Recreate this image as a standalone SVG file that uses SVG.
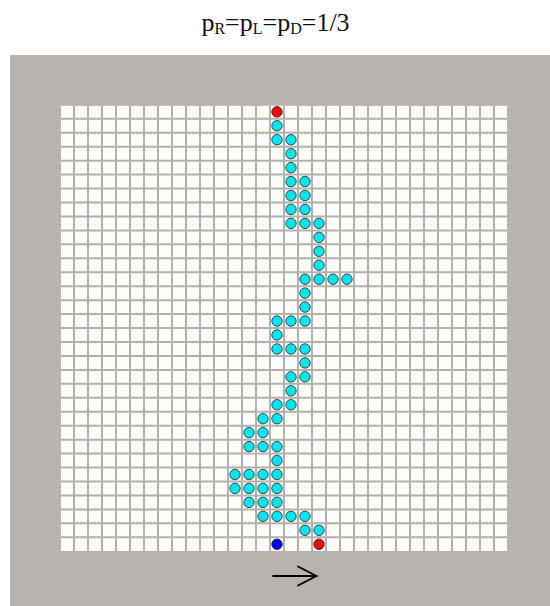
<svg xmlns="http://www.w3.org/2000/svg" width="550" height="606" viewBox="0 0 550 606">
<style>
.title{font-family:"Liberation Serif","Times New Roman",serif;font-size:26px;fill:#111}
.grid{fill:none;stroke:#b5b1ac;stroke-width:2}
.c{fill:#00e6ee;stroke:#3a4a4a;stroke-width:1}
.r{fill:#ff0000;stroke:#4a2a2a;stroke-width:1}
.b{fill:#0000ee;stroke:#22224a;stroke-width:1}
.arrow{fill:none;stroke:#000;stroke-width:1.8;stroke-linecap:round}
</style>
<rect x="0" y="0" width="550" height="606" fill="#ffffff"/>
<text class="title" x="275.5" y="31" text-anchor="middle">p<tspan font-size="16" dy="3">R</tspan><tspan dy="-3">=p</tspan><tspan font-size="16" dy="3">L</tspan><tspan dy="-3">=p</tspan><tspan font-size="16" dy="3">D</tspan><tspan dy="-3">=1/3</tspan></text>
<g id="board">
<rect x="10" y="55" width="540" height="551" fill="#b7b3ae"/>
<rect x="61" y="105.8" width="446" height="445.2" fill="#fdfdfb"/>
<path class="grid" d="M74 105.8V551M88 105.8V551M102 105.8V551M116 105.8V551M130 105.8V551M144 105.8V551M158 105.8V551M172 105.8V551M186 105.8V551M200 105.8V551M214 105.8V551M228 105.8V551M242 105.8V551M256 105.8V551M270 105.8V551M284 105.8V551M298 105.8V551M312 105.8V551M326 105.8V551M340 105.8V551M354 105.8V551M368 105.8V551M382 105.8V551M396 105.8V551M410 105.8V551M424 105.8V551M438 105.8V551M452 105.8V551M466 105.8V551M480 105.8V551M494 105.8V551"/>
<path class="grid" d="M61 118.8H507M61 132.75H507M61 146.7H507M61 160.65H507M61 174.6H507M61 188.55H507M61 202.5H507M61 216.45H507M61 230.4H507M61 244.35H507M61 258.3H507M61 272.25H507M61 286.2H507M61 300.15H507M61 314.1H507M61 328.05H507M61 342H507M61 355.95H507M61 369.9H507M61 383.85H507M61 397.8H507M61 411.75H507M61 425.7H507M61 439.65H507M61 453.6H507M61 467.55H507M61 481.5H507M61 495.45H507M61 509.4H507M61 523.35H507M61 537.3H507"/>
</g>
<g id="start"><circle class="r" cx="277" cy="111.8" r="5.2"/></g>
<g id="walk">
<circle class="c" cx="277" cy="125.75" r="5.2"/>
<circle class="c" cx="277" cy="139.7" r="5.2"/><circle class="c" cx="291" cy="139.7" r="5.2"/>
<circle class="c" cx="291" cy="153.65" r="5.2"/>
<circle class="c" cx="291" cy="167.6" r="5.2"/>
<circle class="c" cx="291" cy="181.55" r="5.2"/><circle class="c" cx="305" cy="181.55" r="5.2"/>
<circle class="c" cx="291" cy="195.5" r="5.2"/><circle class="c" cx="305" cy="195.5" r="5.2"/>
<circle class="c" cx="291" cy="209.45" r="5.2"/><circle class="c" cx="305" cy="209.45" r="5.2"/>
<circle class="c" cx="291" cy="223.4" r="5.2"/><circle class="c" cx="305" cy="223.4" r="5.2"/><circle class="c" cx="319" cy="223.4" r="5.2"/>
<circle class="c" cx="319" cy="237.35" r="5.2"/>
<circle class="c" cx="319" cy="251.3" r="5.2"/>
<circle class="c" cx="319" cy="265.25" r="5.2"/>
<circle class="c" cx="305" cy="279.2" r="5.2"/><circle class="c" cx="319" cy="279.2" r="5.2"/><circle class="c" cx="333" cy="279.2" r="5.2"/><circle class="c" cx="347" cy="279.2" r="5.2"/>
<circle class="c" cx="305" cy="293.15" r="5.2"/>
<circle class="c" cx="305" cy="307.1" r="5.2"/>
<circle class="c" cx="277" cy="321.05" r="5.2"/><circle class="c" cx="291" cy="321.05" r="5.2"/><circle class="c" cx="305" cy="321.05" r="5.2"/>
<circle class="c" cx="277" cy="335" r="5.2"/>
<circle class="c" cx="277" cy="348.95" r="5.2"/><circle class="c" cx="291" cy="348.95" r="5.2"/><circle class="c" cx="305" cy="348.95" r="5.2"/>
<circle class="c" cx="305" cy="362.9" r="5.2"/>
<circle class="c" cx="291" cy="376.85" r="5.2"/><circle class="c" cx="305" cy="376.85" r="5.2"/>
<circle class="c" cx="291" cy="390.8" r="5.2"/>
<circle class="c" cx="277" cy="404.75" r="5.2"/><circle class="c" cx="291" cy="404.75" r="5.2"/>
<circle class="c" cx="263" cy="418.7" r="5.2"/><circle class="c" cx="277" cy="418.7" r="5.2"/>
<circle class="c" cx="249" cy="432.65" r="5.2"/><circle class="c" cx="263" cy="432.65" r="5.2"/>
<circle class="c" cx="249" cy="446.6" r="5.2"/><circle class="c" cx="263" cy="446.6" r="5.2"/><circle class="c" cx="277" cy="446.6" r="5.2"/>
<circle class="c" cx="277" cy="460.55" r="5.2"/>
<circle class="c" cx="235" cy="474.5" r="5.2"/><circle class="c" cx="249" cy="474.5" r="5.2"/><circle class="c" cx="263" cy="474.5" r="5.2"/><circle class="c" cx="277" cy="474.5" r="5.2"/>
<circle class="c" cx="235" cy="488.45" r="5.2"/><circle class="c" cx="249" cy="488.45" r="5.2"/><circle class="c" cx="263" cy="488.45" r="5.2"/><circle class="c" cx="277" cy="488.45" r="5.2"/>
<circle class="c" cx="249" cy="502.4" r="5.2"/><circle class="c" cx="263" cy="502.4" r="5.2"/><circle class="c" cx="277" cy="502.4" r="5.2"/>
<circle class="c" cx="263" cy="516.35" r="5.2"/><circle class="c" cx="277" cy="516.35" r="5.2"/><circle class="c" cx="291" cy="516.35" r="5.2"/><circle class="c" cx="305" cy="516.35" r="5.2"/>
<circle class="c" cx="305" cy="530.3" r="5.2"/><circle class="c" cx="319" cy="530.3" r="5.2"/>
</g>
<g id="origin"><circle class="b" cx="277" cy="544.25" r="5.2"/></g>
<g id="end"><circle class="r" cx="319" cy="544.25" r="5.2"/></g>
<g id="connectors">
<path class="arrow" d="M273 576H316.5M298 566.5L316.5 576L298 585.5"/>
</g>
</svg>
